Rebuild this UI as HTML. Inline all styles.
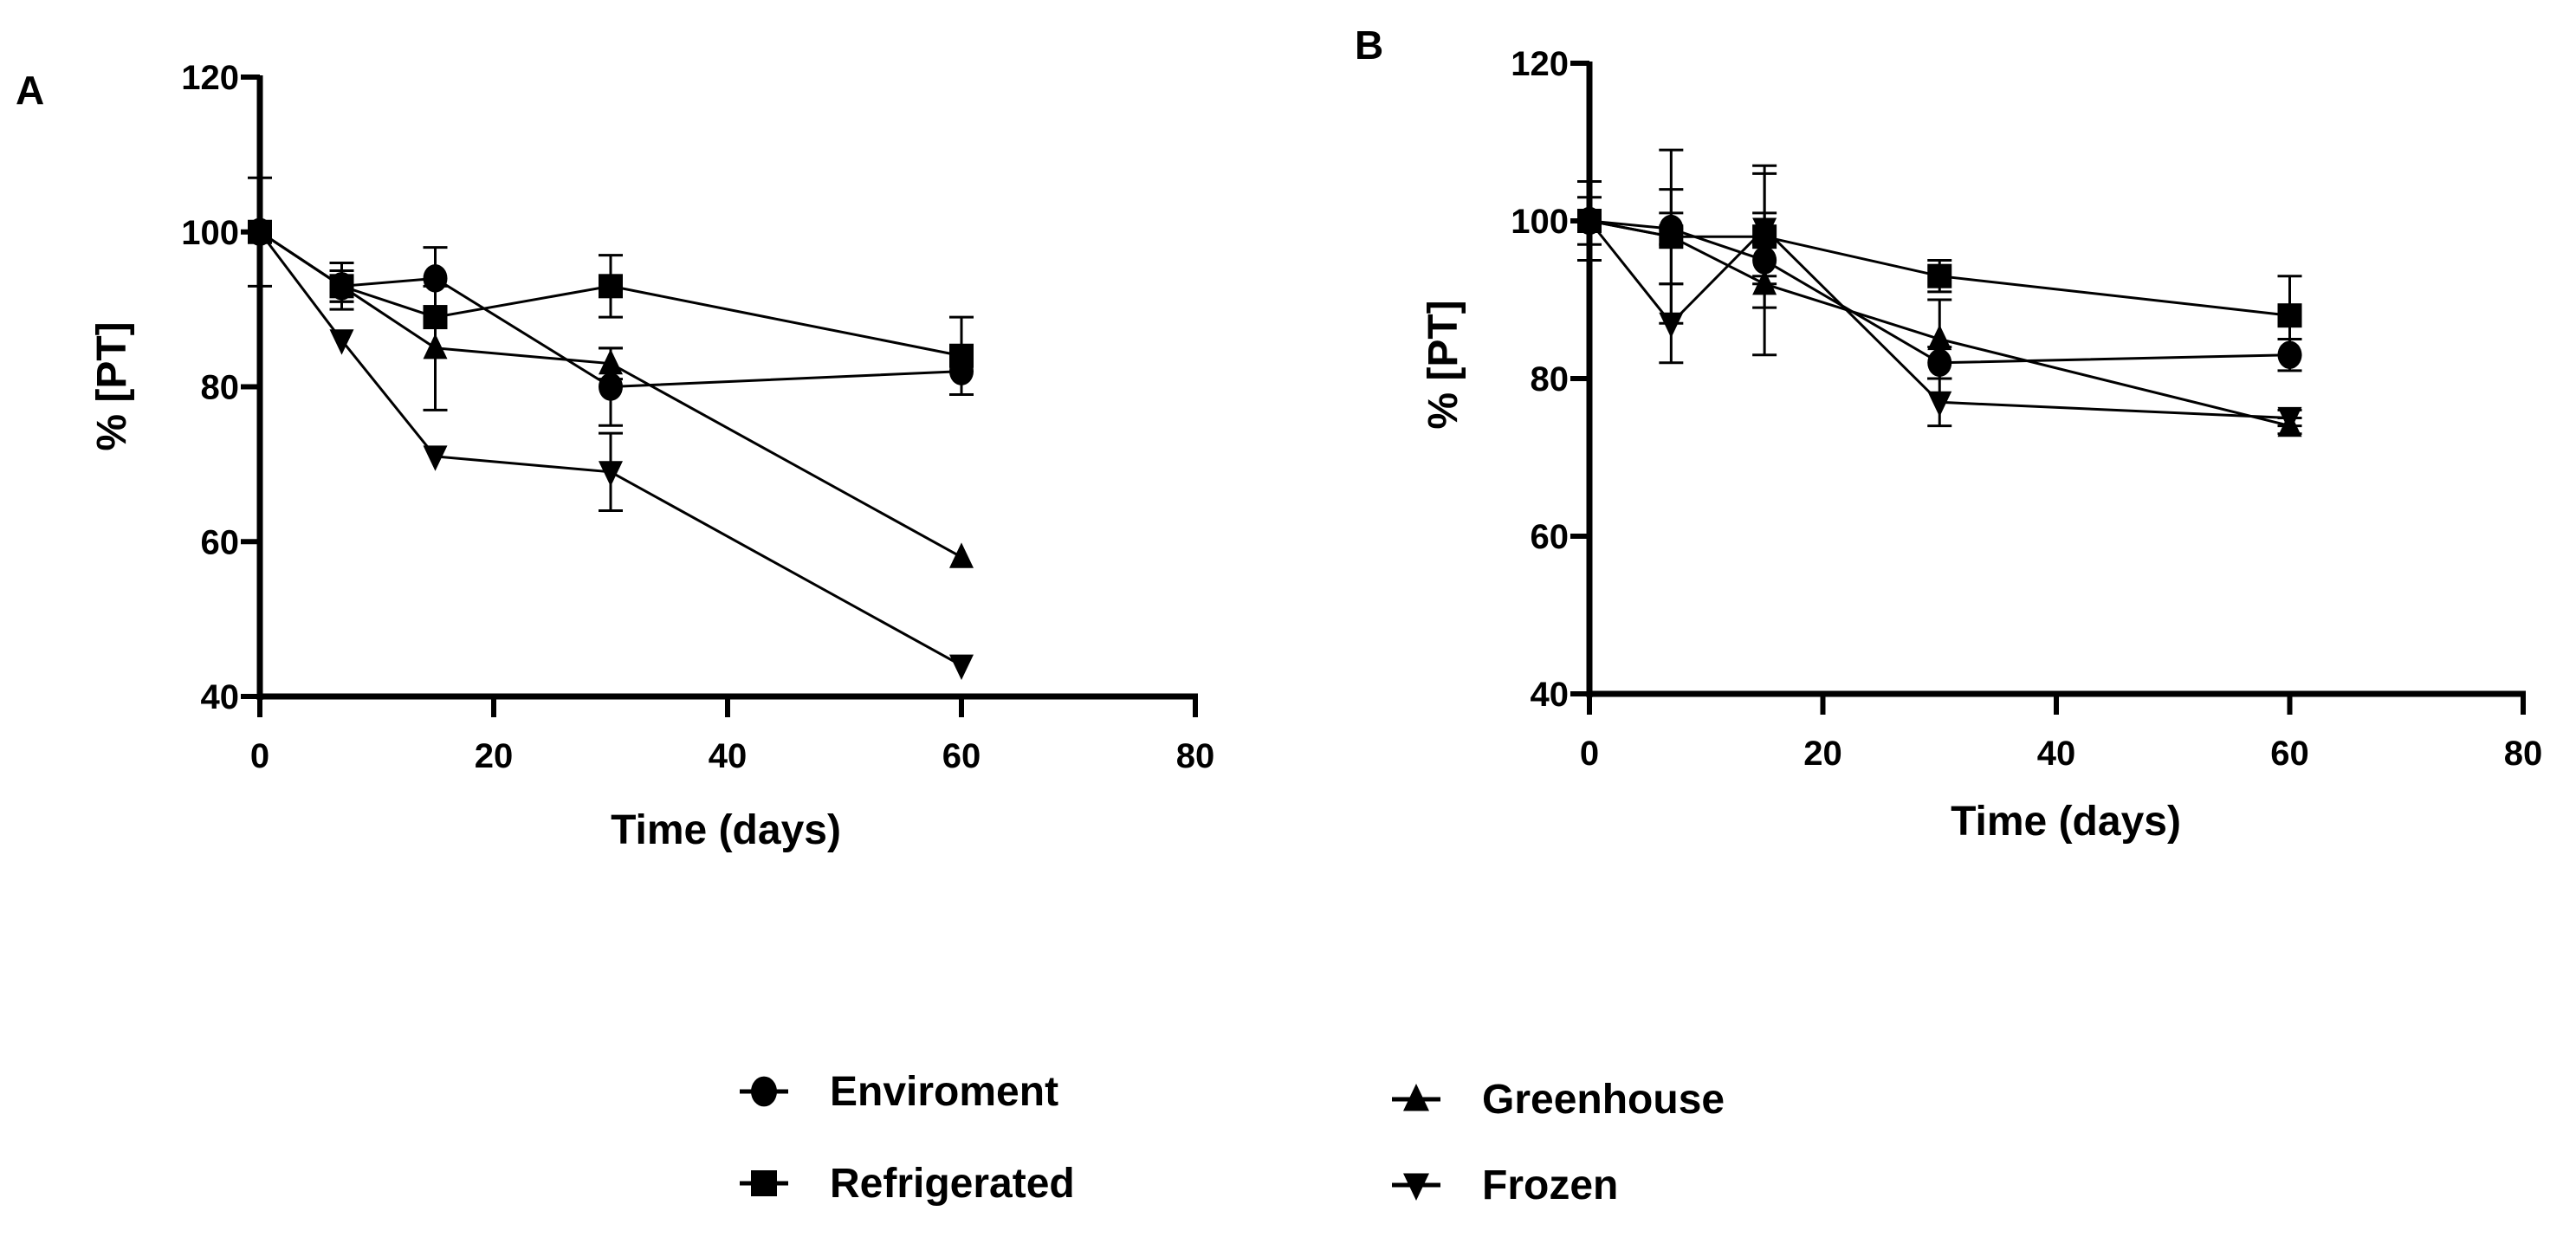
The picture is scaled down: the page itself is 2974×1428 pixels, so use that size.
<!DOCTYPE html>
<html><head><meta charset="utf-8"><style>
html,body{margin:0;padding:0;background:#fff;}
svg{display:block;font-family:"Liberation Sans",Arial,sans-serif;font-weight:bold;}
</style></head><body>
<svg id="fig" width="2974" height="1428" viewBox="0 0 2974 1428"></svg>
<script>
const days = [0, 7, 15, 30, 60];
const seriesNames = ["Enviroment", "Refrigerated", "Greenhouse", "Frozen"];
const markers = ["circle", "square", "up", "down"];
const xTicks = [0, 20, 40, 60, 80];
const yTicks = [40, 60, 80, 100, 120];
// Panel A
const aEnv = [100, 93, 94, 80, 82];
const aRef = [100, 93, 89, 93, 84];
const aGre = [100, 93, 85, 83, 58];
const aFro = [100, 86, 71, 69, 44];
const aEnvErr = [0, 2, 4, 5, 3];
const aRefErr = [7, 3, 0, 4, 5];
const aGreErr = [0, 2, 8, 2, 0];
const aFroErr = [0, 0, 0, 5, 0];
// Panel B
const bEnv = [100, 99, 95, 82, 83];
const bRef = [100, 98, 98, 93, 88];
const bGre = [100, 98, 92, 85, 74];
const bFro = [100, 87, 99, 77, 75];
const bEnvErr = [3, 2, 2, 2, 2];
const bRefErr = [5, 6, 9, 2, 5];
const bGreErr = [1, 11, 9, 5, 1];
const bFroErr = [1, 5, 7, 3, 1];

const NS = "http://www.w3.org/2000/svg";
const svg = document.getElementById("fig");
function mk(tag, attrs, parent){
  const e = document.createElementNS(NS, tag);
  for (const k in attrs) e.setAttribute(k, attrs[k]);
  (parent || svg).appendChild(e);
  return e;
}
function marker(g, type, cx, cy, s){
  let e;
  if (type === "circle") e = mk("ellipse", {cx:cx, cy:cy, rx:s*0.5, ry:s*0.58, fill:"#000"}, g);
  else if (type === "square") e = mk("rect", {x:cx-s/2, y:cy-s/2, width:s, height:s, fill:"#000"}, g);
  else if (type === "up") e = mk("polygon", {points:`${cx},${cy-s*0.6} ${cx-s/2},${cy+s*0.45} ${cx+s/2},${cy+s*0.45}`, fill:"#000"}, g);
  else e = mk("polygon", {points:`${cx},${cy+s*0.6} ${cx-s/2},${cy-s*0.45} ${cx+s/2},${cy-s*0.45}`, fill:"#000"}, g);
  return e;
}
function panel(id, label, lx, ly, x0, x80, y120, y40, vals, errs, titleX, titleY, ytX, ytY){
  const g = mk("g", {});
  
  
  const X = v => x0 + (v / 80) * (x80 - x0);
  const Y = v => y40 - (v - 40) / 80 * (y40 - y120);
  const pl = mk("text", {x:lx, y:ly, "font-size":46}, g); pl.textContent = label;
  
  
  const ax = mk("line", {x1:x0, y1:y120-2, x2:x0, y2:y40+4, stroke:"#000", "stroke-width":7}, g);
  
  
  const axx = mk("line", {x1:x0-3, y1:y40, x2:x80+3, y2:y40, stroke:"#000", "stroke-width":7}, g);
  
  
  yTicks.forEach(t => {
    mk("line", {x1:x0-22, y1:Y(t), x2:x0, y2:Y(t), stroke:"#000", "stroke-width":6}, g);
    const tx = mk("text", {x:x0-24, y:Y(t)+14, "font-size":40, "text-anchor":"end"}, g);
    tx.textContent = t;
    
    
  });
  xTicks.forEach(t => {
    mk("line", {x1:X(t), y1:y40, x2:X(t), y2:y40+24, stroke:"#000", "stroke-width":6}, g);
    const tx = mk("text", {x:X(t), y:y40+82, "font-size":40, "text-anchor":"middle"}, g);
    tx.textContent = t;
    
    
  });
  const xt = mk("text", {x:titleX, y:titleY, "font-size":48, "text-anchor":"middle"}, g);
  xt.textContent = "Time (days)";
  
  
  const yt = mk("text", {x:0, y:0, "font-size":48, "text-anchor":"middle", transform:`translate(${ytX},${ytY}) rotate(-90)`}, g);
  yt.textContent = "% [PT]";
  
  
  vals.forEach((arr, si) => {
    const sg = mk("g", {}, g);
    
    
    const pts = arr.map((v, i) => X(days[i]) + "," + Y(v)).join(" ");
    mk("polyline", {points:pts, fill:"none", stroke:"#000", "stroke-width":3}, sg);
    arr.forEach((v, i) => {
      const e = errs[si][i];
      if (e > 0) {
        const cx = X(days[i]);
        mk("line", {x1:cx, y1:Y(v+e), x2:cx, y2:Y(v-e), stroke:"#000", "stroke-width":3}, sg);
        mk("line", {x1:cx-14, y1:Y(v+e), x2:cx+14, y2:Y(v+e), stroke:"#000", "stroke-width":3}, sg);
        mk("line", {x1:cx-14, y1:Y(v-e), x2:cx+14, y2:Y(v-e), stroke:"#000", "stroke-width":3}, sg);
      }
      const m = marker(sg, markers[si], X(days[i]), Y(v), 28);
      
      
    });
  });
}
panel("a", "A", 18, 120, 300, 1380, 89, 804,
  [aEnv, aRef, aGre, aFro], [aEnvErr, aRefErr, aGreErr, aFroErr], 838, 974, 145, 446);
panel("b", "B", 1564, 68, 1835, 2913, 73, 801,
  [bEnv, bRef, bGre, bFro], [bEnvErr, bRefErr, bGreErr, bFroErr], 2385, 964, 1682, 421);

const legendPos = [[882, 1260], [882, 1366], [1635, 1269], [1635, 1368]];
seriesNames.forEach((n, i) => {
  const g = mk("g", {});
  
  
  const [mx, my] = legendPos[i];
  mk("line", {x1:mx-28, y1:my, x2:mx+28, y2:my, stroke:"#000", "stroke-width":5}, g);
  marker(g, markers[i], mx, my, 30);
  const t = mk("text", {x:mx+76, y:my+16, "font-size":48}, g);
  t.textContent = n;
});
</script>
</body></html>
